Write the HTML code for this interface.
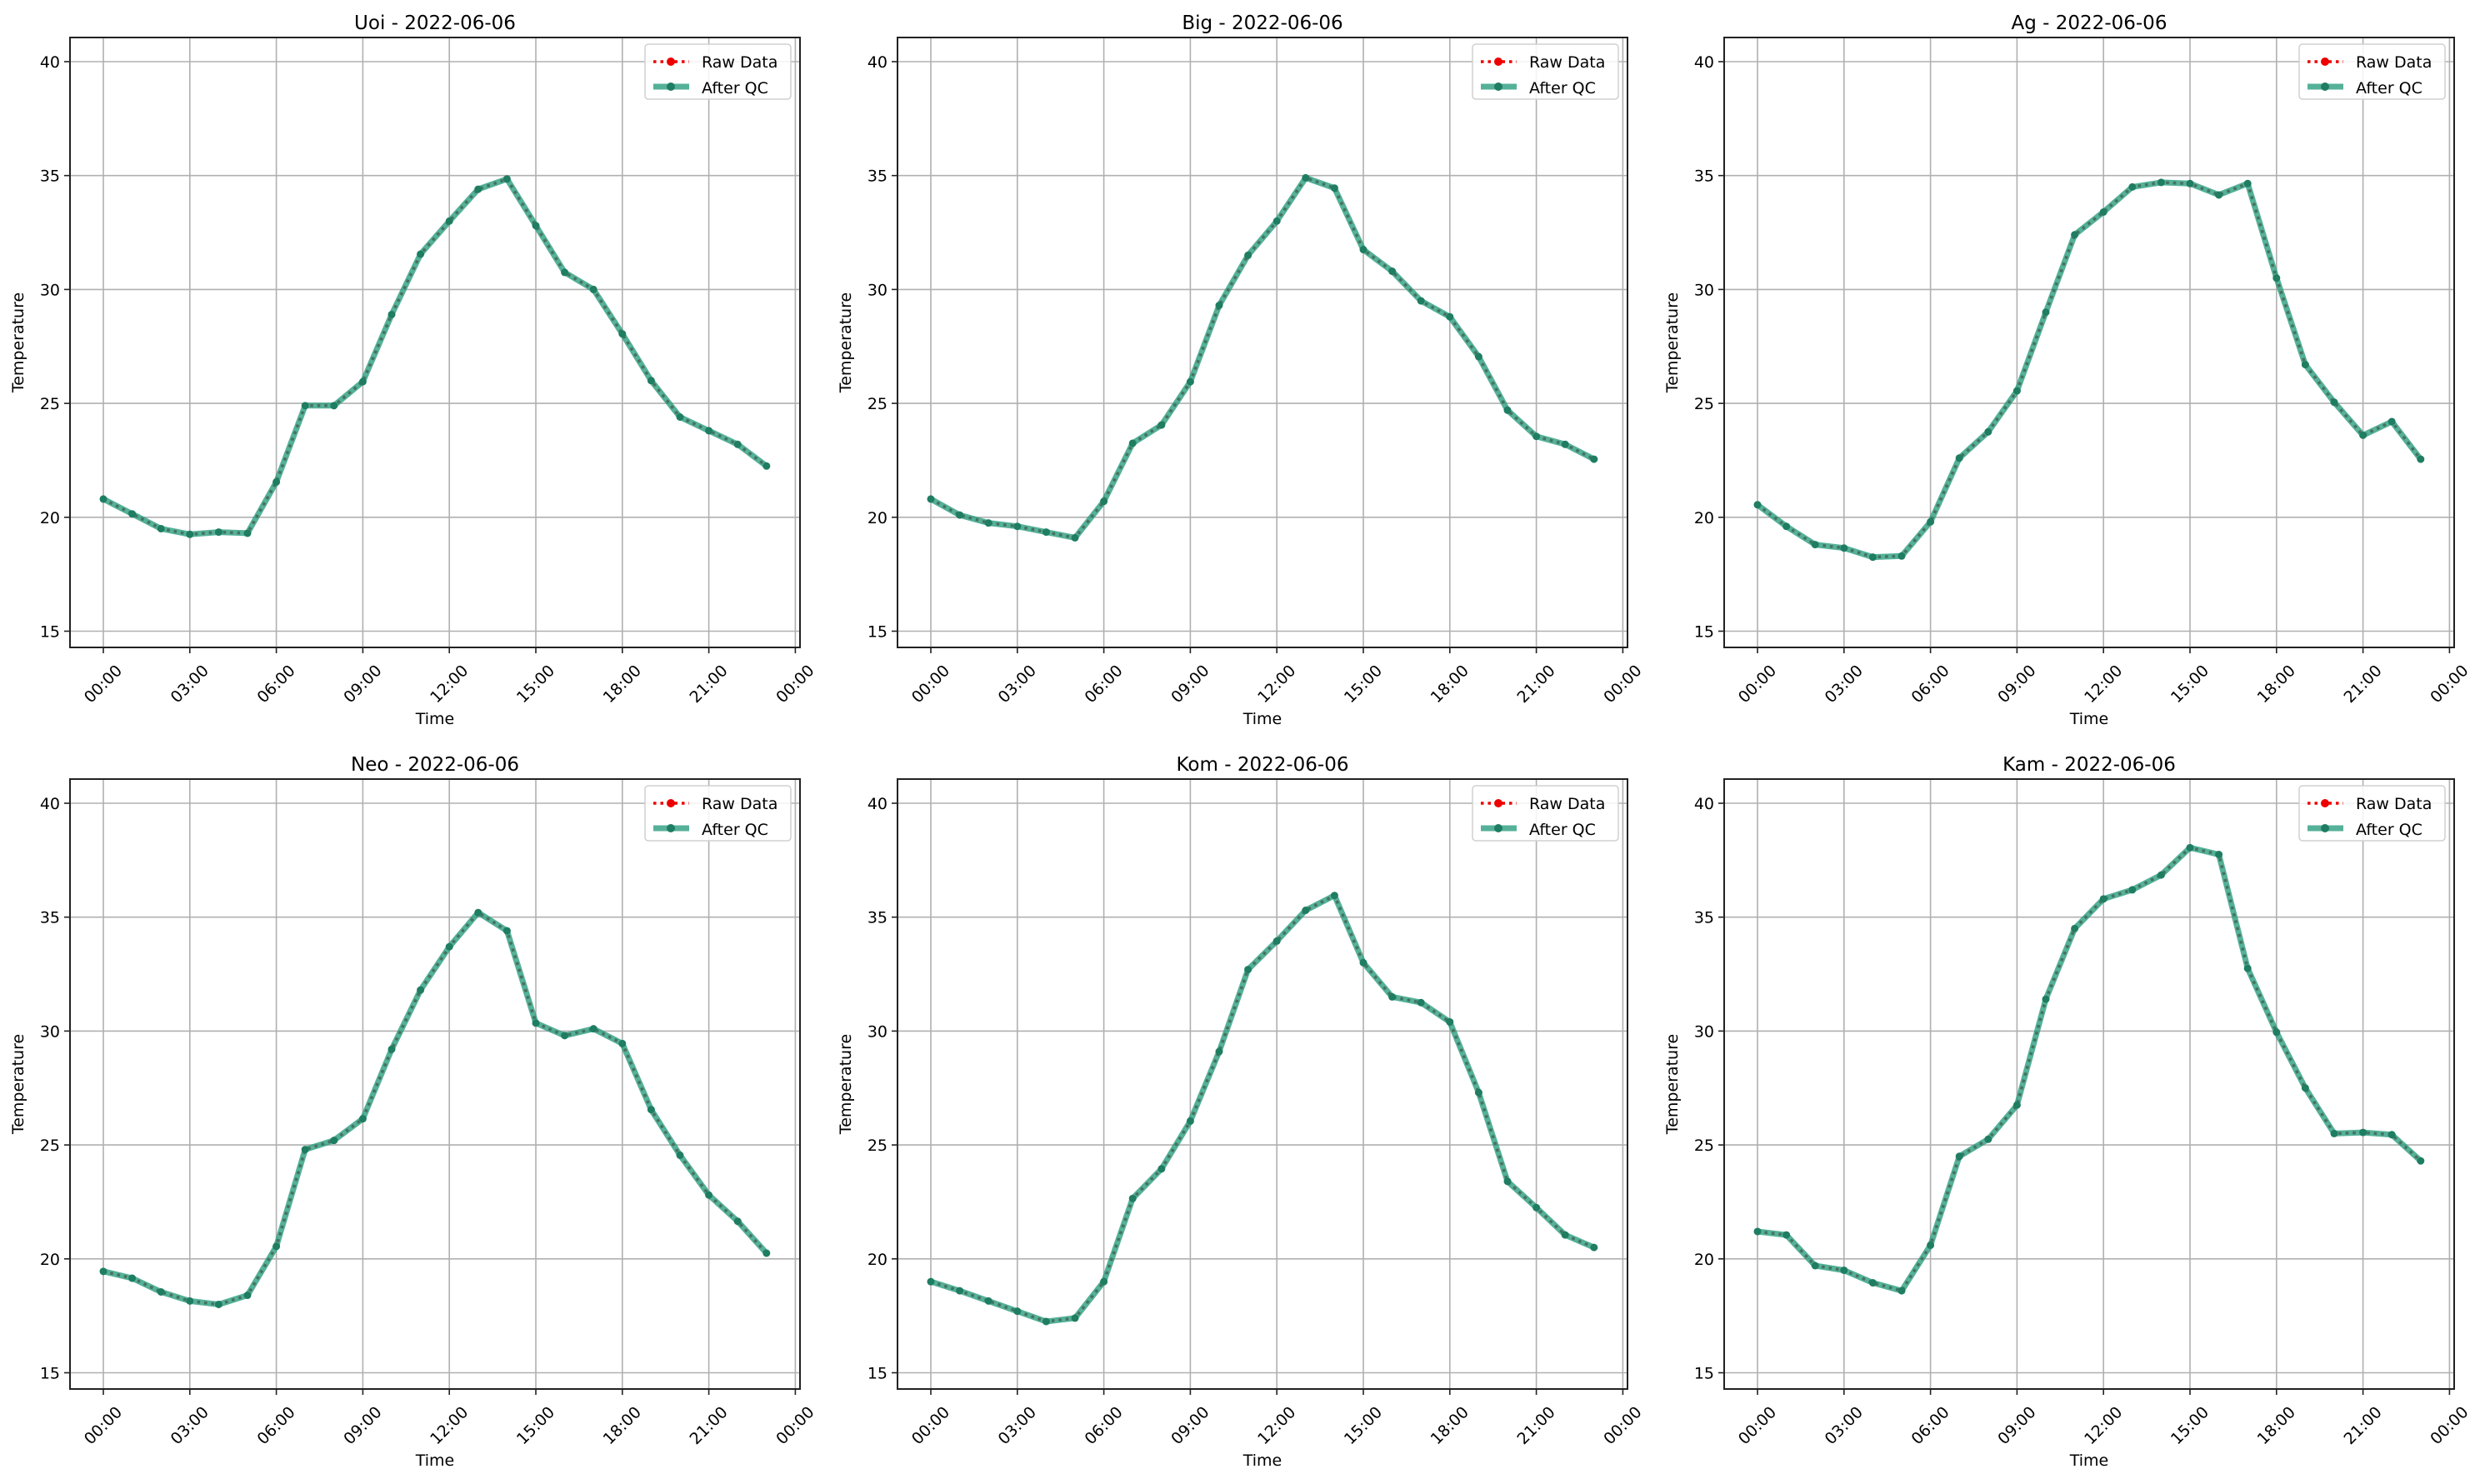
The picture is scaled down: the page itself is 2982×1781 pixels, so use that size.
<!DOCTYPE html>
<html><head><meta charset="utf-8"><style>
html,body{margin:0;padding:0;background:#fff;}
svg{display:block;font-family:"DejaVu Sans","Liberation Sans",sans-serif;}
</style></head><body>
<svg id="s" width="2982" height="1781" xmlns="http://www.w3.org/2000/svg"></svg>
<script>
const data={
"Uoi":[20.8,20.15,19.5,19.25,19.35,19.3,21.55,24.9,24.9,25.95,28.9,31.55,33.0,34.4,34.85,32.8,30.75,30.0,28.05,26.0,24.4,23.8,23.2,22.25],
"Big":[20.8,20.1,19.75,19.6,19.35,19.1,20.7,23.25,24.05,25.95,29.3,31.5,33.0,34.9,34.45,31.75,30.8,29.5,28.8,27.05,24.7,23.55,23.2,22.55],
"Ag":[20.55,19.6,18.8,18.65,18.25,18.3,19.8,22.6,23.75,25.55,29.0,32.4,33.4,34.5,34.7,34.65,34.15,34.65,30.5,26.7,25.05,23.6,24.2,22.55],
"Neo":[19.45,19.15,18.55,18.15,18.0,18.4,20.55,24.8,25.2,26.15,29.2,31.8,33.7,35.2,34.4,30.35,29.8,30.1,29.45,26.55,24.55,22.8,21.65,20.25],
"Kom":[19.0,18.6,18.15,17.7,17.25,17.4,19.0,22.65,23.95,26.05,29.1,32.7,33.95,35.3,35.95,33.0,31.5,31.25,30.4,27.3,23.4,22.25,21.05,20.5],
"Kam":[21.2,21.05,19.7,19.5,18.95,18.6,20.6,24.5,25.25,26.75,31.4,34.5,35.8,36.2,36.85,38.05,37.75,32.75,29.95,27.5,25.5,25.55,25.45,24.3]};
const names=Object.keys(data);
const lefts=[84,1077,2069], tops=[45,935];
const W=876,H=732,HR=34.6,DEG=27.34;
let o='';
names.forEach((n,i)=>{
 const L=lefts[i%3],T=tops[Math.floor(i/3)];
 const X=h=>L+40+h*HR, Y=v=>T+29+(40-v)*DEG;
 for(let h=0;h<=24;h+=3){const x=X(h);o+=`<line x1="${x}" y1="${T}" x2="${x}" y2="${T+H}" stroke="#b0b0b0" stroke-width="1.6"/>`;
  o+=`<line x1="${x}" y1="${T+H}" x2="${x}" y2="${T+H+7}" stroke="#222" stroke-width="1.6"/>`;
  const lab=String(h%24).padStart(2,'0')+':00';
  o+=`<text x="${x}" y="${T+H+44}" font-size="19" text-anchor="middle" dominant-baseline="central" transform="rotate(-45 ${x} ${T+H+44})">${lab}</text>`;}
 for(let v=15;v<=40;v+=5){const y=Y(v);o+=`<line x1="${L}" y1="${y}" x2="${L+W}" y2="${y}" stroke="#b0b0b0" stroke-width="1.6"/>`;
  o+=`<line x1="${L-7}" y1="${y}" x2="${L}" y2="${y}" stroke="#222" stroke-width="1.6"/>`;
  o+=`<text x="${L-12}" y="${y+7}" font-size="19" text-anchor="end">${v}</text>`;}
 const pts=data[n].map((v,h)=>X(h).toFixed(1)+','+Y(v).toFixed(1)).join(' ');
 o+=`<polyline points="${pts}" fill="none" stroke="#e00" stroke-width="3.5" stroke-dasharray="3.5,5"/>`;
 o+=`<polyline points="${pts}" fill="none" stroke="#2a9d80" stroke-opacity="0.8" stroke-width="7" stroke-linejoin="round"/>`;
 o+=`<polyline points="${pts}" fill="none" stroke="#3a6a58" stroke-opacity="0.55" stroke-width="3.5" stroke-dasharray="3.5,5"/>`;
 data[n].forEach((v,h)=>{o+=`<circle cx="${X(h)}" cy="${Y(v)}" r="4.5" fill="#1f7d62"/>`;});
 o+=`<rect x="${L}" y="${T}" width="${W}" height="${H}" fill="none" stroke="#222" stroke-width="2"/>`;
 const lx=L+W-186,ly=T+8;
 o+=`<rect x="${lx}" y="${ly}" width="175" height="66" rx="4" fill="#fff" fill-opacity="0.85" stroke="#d0d0d0" stroke-width="1.5"/>`;
 o+=`<line x1="${lx+10}" y1="${ly+21}" x2="${lx+53}" y2="${ly+21}" stroke="#e00" stroke-width="3.5" stroke-dasharray="3.5,5"/><circle cx="${lx+31}" cy="${ly+21}" r="5" fill="#e00"/>`;
 o+=`<text x="${lx+68}" y="${ly+28}" font-size="19">Raw Data</text>`;
 o+=`<line x1="${lx+10}" y1="${ly+51}" x2="${lx+53}" y2="${ly+51}" stroke="#2a9d80" stroke-opacity="0.8" stroke-width="7"/><circle cx="${lx+31}" cy="${ly+51}" r="5" fill="#1f7d62"/>`;
 o+=`<text x="${lx+68}" y="${ly+59}" font-size="19">After QC</text>`;
 o+=`<text x="${L+W/2}" y="${T-10}" font-size="23" text-anchor="middle">${n} - 2022-06-06</text>`;
 o+=`<text x="${L+W/2}" y="${T+H+92}" font-size="19" text-anchor="middle">Time</text>`;
 o+=`<text x="${L-56}" y="${T+H/2}" font-size="19" text-anchor="middle" transform="rotate(-90 ${L-56} ${T+H/2})">Temperature</text>`;
});
document.getElementById('s').innerHTML=o;
</script>
</body></html>
